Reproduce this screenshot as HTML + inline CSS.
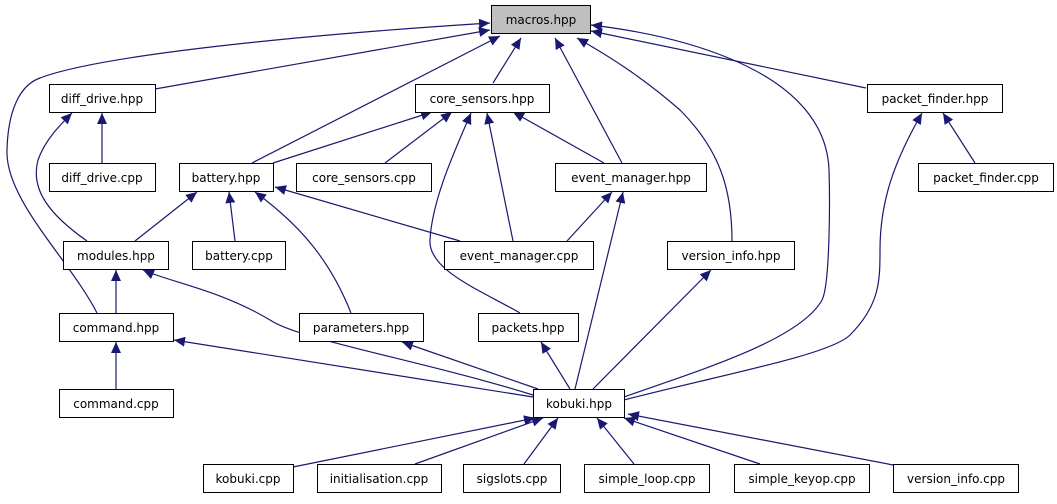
<!DOCTYPE html>
<html><head><meta charset="utf-8"><style>
html,body{margin:0;padding:0;background:#fff;width:1057px;height:504px;overflow:hidden}
svg{display:block}
text{font-family:"DejaVu Sans","Liberation Sans",sans-serif;font-size:12px;fill:#000}
</style></head><body>
<svg width="1057" height="504" viewBox="0 0 1057 504" xmlns="http://www.w3.org/2000/svg">
<defs><marker id="a" markerUnits="userSpaceOnUse" markerWidth="12" markerHeight="10" refX="11" refY="5" orient="auto"><path d="M0,0 L11,5 L0,10 Z" fill="#191970"/></marker></defs>
<g fill="none" stroke="#191970" stroke-width="1.2" marker-end="url(#a)">
<path d="M97,313 C70,260 5,200 7,150 C8,110 20,85 40,78 C100,55 300,35 490,23"/>
<path d="M155,89 L490,30"/>
<path d="M252,163 L500,36"/>
<path d="M493,83 L521,38"/>
<path d="M622,163 L555,38"/>
<path d="M732,241 C732,190 720,150 680,110 C640,75 605,54 577,38"/>
<path d="M624,397 C700,370 800,340 822,300 C830,285 830,200 829,170 C825,60 650,32 591,25"/>
<path d="M866,88 L591,31"/>
<path d="M102,163 L102,113"/>
<path d="M87,241 C50,215 30,190 38,160 C45,140 60,125 72,113"/>
<path d="M273,163 L432,112"/>
<path d="M385,163 L452,112"/>
<path d="M513,241 L487,113"/>
<path d="M604,163 L513,112"/>
<path d="M520,313 C480,290 428,270 430,240 C432,200 455,150 471,113"/>
<path d="M135,241 L197,192"/>
<path d="M235,241 L229,192"/>
<path d="M351,313 C330,260 300,225 255,192"/>
<path d="M460,241 L275,187"/>
<path d="M567,241 L612,192"/>
<path d="M575,389 L623,192"/>
<path d="M975,163 L943,113"/>
<path d="M624,400 C720,375 830,355 850,335 C880,305 880,280 880,250 C880,200 895,160 922,113"/>
<path d="M593,389 L711,270"/>
<path d="M116,313 L116,270"/>
<path d="M533,395 C420,360 300,340 270,320 C220,290 170,282 143,270"/>
<path d="M533,397 L174,340"/>
<path d="M538,389 L402,342"/>
<path d="M570,389 L541,342"/>
<path d="M116,389 L116,342"/>
<path d="M293,467 L535,418"/>
<path d="M415,464 L543,418"/>
<path d="M524,464 L558,418"/>
<path d="M634,464 L597,418"/>
<path d="M760,464 L624,418"/>
<path d="M893,465 L628,414"/>
</g>
<g stroke="#000" stroke-width="1" fill="#fff">
<rect x="491.5" y="5.5" width="99" height="28" fill="#bfbfbf"/>
<rect x="49.5" y="84.5" width="106" height="28"/>
<rect x="415.5" y="84.5" width="134" height="28"/>
<rect x="867.5" y="84.5" width="135" height="28"/>
<rect x="49.5" y="163.5" width="106" height="28"/>
<rect x="179.5" y="163.5" width="94" height="28"/>
<rect x="296.5" y="163.5" width="135" height="28"/>
<rect x="555.5" y="163.5" width="151" height="28"/>
<rect x="918.5" y="163.5" width="135" height="28"/>
<rect x="63.5" y="241.5" width="105" height="28"/>
<rect x="192.5" y="241.5" width="93" height="28"/>
<rect x="444.5" y="241.5" width="149" height="28"/>
<rect x="667.5" y="241.5" width="127" height="28"/>
<rect x="59.5" y="313.5" width="114" height="28"/>
<rect x="299.5" y="313.5" width="124" height="28"/>
<rect x="478.5" y="313.5" width="100" height="28"/>
<rect x="59.5" y="389.5" width="114" height="28"/>
<rect x="533.5" y="389.5" width="91" height="28"/>
<rect x="203.5" y="464.5" width="90" height="28"/>
<rect x="317.5" y="464.5" width="124" height="28"/>
<rect x="463.5" y="464.5" width="97" height="28"/>
<rect x="584.5" y="464.5" width="125" height="28"/>
<rect x="734.5" y="464.5" width="135" height="28"/>
<rect x="893.5" y="464.5" width="125" height="28"/>
</g>
<g text-anchor="middle">
<text x="541" y="24">macros.hpp</text>
<text x="102" y="103">diff_drive.hpp</text>
<text x="482" y="103">core_sensors.hpp</text>
<text x="935" y="103">packet_finder.hpp</text>
<text x="102" y="182">diff_drive.cpp</text>
<text x="226" y="182">battery.hpp</text>
<text x="364" y="182">core_sensors.cpp</text>
<text x="631" y="182">event_manager.hpp</text>
<text x="986" y="182">packet_finder.cpp</text>
<text x="116" y="260">modules.hpp</text>
<text x="239" y="260">battery.cpp</text>
<text x="519" y="260">event_manager.cpp</text>
<text x="731" y="260">version_info.hpp</text>
<text x="116" y="332">command.hpp</text>
<text x="361" y="332">parameters.hpp</text>
<text x="528" y="332">packets.hpp</text>
<text x="116" y="408">command.cpp</text>
<text x="579" y="408">kobuki.hpp</text>
<text x="248" y="483">kobuki.cpp</text>
<text x="379" y="483">initialisation.cpp</text>
<text x="512" y="483">sigslots.cpp</text>
<text x="647" y="483">simple_loop.cpp</text>
<text x="802" y="483">simple_keyop.cpp</text>
<text x="956" y="483">version_info.cpp</text>
</g>
</svg>
</body></html>
